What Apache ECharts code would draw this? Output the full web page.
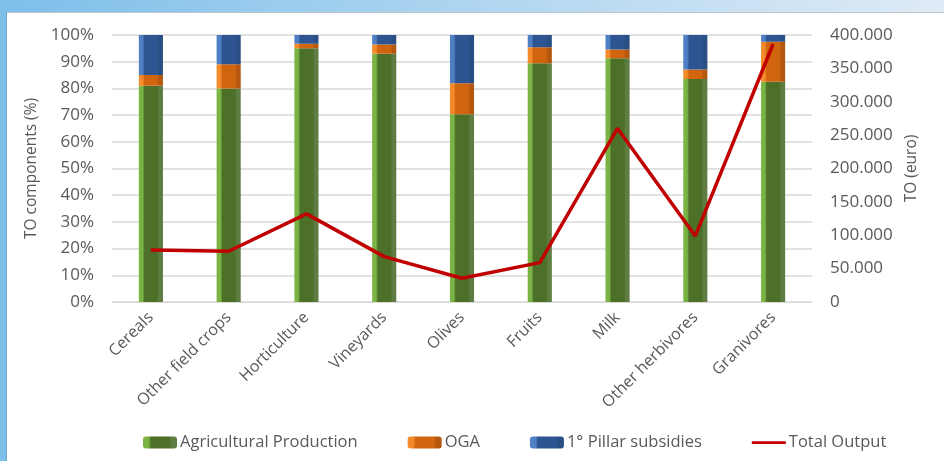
<!DOCTYPE html>
<html>
<head>
<meta charset="utf-8">
<script src="https://cdn.jsdelivr.net/npm/echarts@6/dist/echarts.min.js"></script>
<style>
  html, body { margin: 0; padding: 0; background: #fff; }
  #main { width: 944px; height: 461px; }
</style>
</head>
<body>
<div id="main"></div>
<script>
// 类别
const categories = ['Cereals', 'Other field crops', 'Horticulture', 'Vineyards', 'Olives',
  'Fruits', 'Milk', 'Other herbivores', 'Granivores'];
// 各组成部分 (%)
const agriProduction = [81, 80, 95, 93, 70.3, 89.4, 91.3, 83.5, 82.5];
const oga = [4, 9, 1.7, 3.4, 11.6, 6, 3.3, 3.6, 15];
const pillarSubsidies = [15, 11, 3.3, 3.6, 18.1, 4.6, 5.4, 12.9, 2.5];
// 总产出 (euro)
const totalOutput = [78000, 76000, 132000, 68000, 35500, 59000, 260000, 99000, 386500];

(function () {
  let myChart = echarts.init(document.getElementById('main'))
  const font = '"Open Sans", "Noto Sans", sans-serif'
  const txt = '#595959'

  // 模拟 Excel 的斜面效果
  function bevel(light, mid, dark) {
    return new echarts.graphic.LinearGradient(0, 0, 1, 0, [
      { offset: 0, color: light },
      { offset: 0.16, color: light },
      { offset: 0.24, color: mid },
      { offset: 0.76, color: mid },
      { offset: 0.84, color: dark },
      { offset: 1, color: dark }
    ])
  }

  let option = {
    textStyle: { fontFamily: font },
    graphic: [
      { type: 'rect', left: 0, top: 0, shape: { width: 944, height: 12 }, z: 100,
        style: { fill: new echarts.graphic.LinearGradient(0, 0, 1, 0, [
          { offset: 0, color: '#7ebfea' }, { offset: 1, color: '#dfebf6' }]) } },
      { type: 'rect', left: 0, top: 12, shape: { width: 944, height: 1 }, z: 100,
        style: { fill: '#b7c6d3' } },
      { type: 'rect', left: 0, top: 0, shape: { width: 6, height: 461 }, z: 100,
        style: { fill: '#7ebfea' } },
      { type: 'rect', left: 6, top: 12, shape: { width: 1, height: 449 }, z: 100,
        style: { fill: '#6aa6d0' } }
    ],
    grid: { left: 112, right: 132, top: 35, bottom: 159 },
    legend: {
      left: 138,
      top: 429,
      itemWidth: 34,
      itemHeight: 12,
      itemGap: 50,
      textStyle: { color: txt, fontSize: 16.5, fontFamily: font, padding: [0, 0, 0, -2] },
      data: [
        'Agricultural Production', 'OGA', '1° Pillar subsidies',
        // 图例中只显示线段
        { name: 'Total Output', icon: 'path://M0,0L0,0M0,4.8L34,4.8L34,7.6L0,7.6ZM34,12L34,12' }
      ]
    },
    xAxis: {
      type: 'category',
      data: categories,
      axisLine: { lineStyle: { color: '#d9d9d9' } },
      axisTick: { show: false },
      axisLabel: { rotate: 45, color: txt, fontSize: 16, margin: 13, interval: 0 }
    },
    yAxis: [
      {
        type: 'value',
        min: 0,
        max: 100,
        interval: 10,
        name: 'TO components (%)',
        nameLocation: 'middle',
        nameGap: 71,
        nameTextStyle: { color: txt, fontSize: 15.5 },
        axisLabel: { formatter: '{value}%', color: txt, fontSize: 17, margin: 18 },
        splitLine: { lineStyle: { color: '#d9d9d9', width: 1.5 } }
      },
      {
        type: 'value',
        min: 0,
        max: 400000,
        interval: 50000,
        name: 'TO (euro)',
        nameLocation: 'middle',
        nameGap: 92,
        nameTextStyle: { color: txt, fontSize: 15.5 },
        axisLabel: {
          color: txt, fontSize: 17, margin: 18,
          formatter: function (v) { return v === 0 ? '0' : (v / 1000).toFixed(3) }
        },
        splitLine: { show: false }
      }
    ],
    series: [
      {
        name: 'Agricultural Production',
        type: 'bar',
        stack: 'to',
        barWidth: '31%',
        data: agriProduction,
        itemStyle: { color: bevel('#7ab444', '#4c7028', '#5f7d42') }
      },
      {
        name: 'OGA',
        type: 'bar',
        stack: 'to',
        data: oga,
        itemStyle: { color: bevel('#f58a2a', '#d0640f', '#b5570e') }
      },
      {
        name: '1° Pillar subsidies',
        type: 'bar',
        stack: 'to',
        data: pillarSubsidies,
        itemStyle: { color: bevel('#4f80c4', '#2e5591', '#2a4f85') }
      },
      {
        name: 'Total Output',
        type: 'line',
        yAxisIndex: 1,
        data: totalOutput,
        symbol: 'none',
        lineStyle: { color: '#c00000', width: 3.5 },
        itemStyle: { color: '#c00000' },
        z: 5
      }
    ]
  }

  myChart.setOption(option)

  window.addEventListener('resize', function () {
    myChart.resize()
  })
})();
</script>
</body>
</html>
